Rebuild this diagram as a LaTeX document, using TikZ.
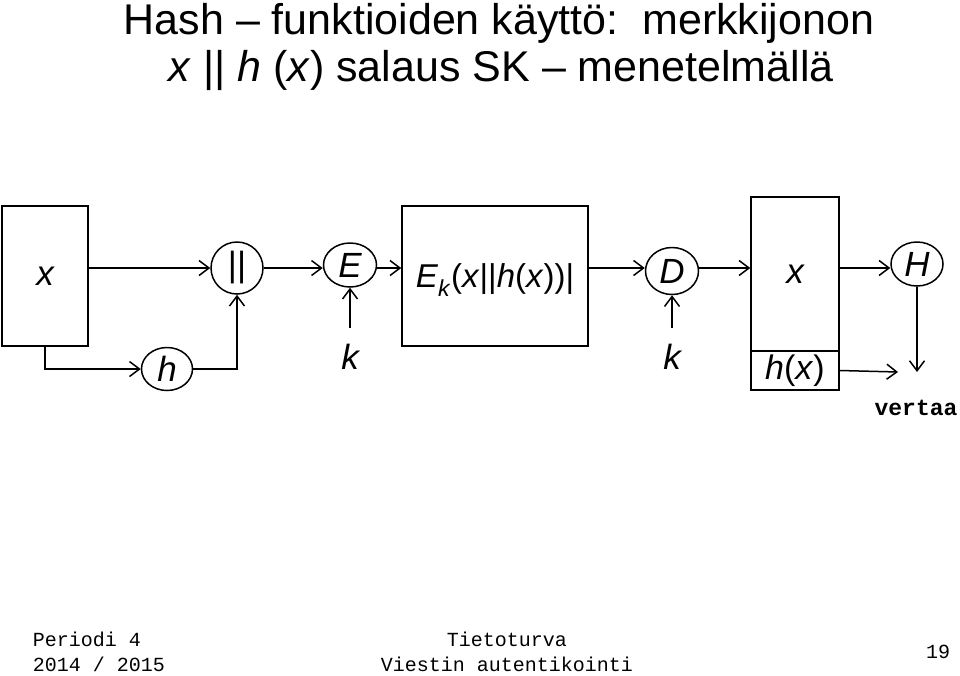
\documentclass[tikz,border=0pt]{standalone}
\usepackage{fontspec}
\setmainfont{Liberation Sans}
\newfontfamily\monofont{Liberation Mono}
\usetikzlibrary{shapes.geometric,arrows.meta}

\tikzset{
	>={Straight Barb[length=10pt,width=15pt]},
	lbl/.style={inner sep=2pt, font=\fontsize{35}{38}\selectfont\itshape},
	op/.style={draw, ellipse, inner sep=0pt, minimum width=53pt, minimum height=44pt, font=\fontsize{35}{38}\selectfont\itshape},
	blk/.style={draw, inner sep=0pt, font=\fontsize{35}{38}\selectfont\itshape},
	foot/.style={inner sep=0pt, font=\monofont\fontsize{20}{24}\selectfont},
	ttl/.style={inner sep=0pt, anchor=base, font=\fontsize{43}{46}\selectfont}
}

\begin{document}
\begin{tikzpicture}[x=1pt, y=-1pt, line width=1.5pt]
		\useasboundingbox (0, 0) rectangle (960, 675);

		% otsikko
		\node[ttl] (title1) at (499, 34) {Hash -- funktioiden käyttö:\ \ merkkijonon};
		\node[ttl] (title2) at (501, 81) {\textit{x} || \textit{h} (\textit{x}) salaus SK -- menetelmällä};

		% lähettäjä
		\node[blk, minimum width=86pt, minimum height=140pt] (xbox) at (45, 276) {x};
		\node[op, minimum width=52pt, minimum height=52pt, font=\fontsize{35}{38}\selectfont] (cat) at (237, 268) {||};
		\node[op, minimum width=51pt, minimum height=43pt] (hfun) at (167, 369) {h};
		\node[op] (enc) at (350, 265) {E};
		\node[lbl] (k1) at (350, 357) {k};

		\node[blk, minimum width=186pt, minimum height=140pt, text depth=0pt, font=\fontsize{33}{38}\selectfont] (msg) at (495, 276)
			{\textit{E}\textsubscript{\textit{k}}(\textit{x}||\textit{h}(\textit{x}))|};

		% vastaanottaja
		\node[op, minimum height=47pt] (dec) at (672, 271) {D};
		\node[lbl] (k2) at (672, 357) {k};
		\node[blk, minimum width=88pt, minimum height=154pt] (rx) at (795, 274) {x};
		\node[blk, minimum width=88pt, minimum height=39pt, font=\fontsize{34}{38}\selectfont] (rh) at (795, 370.5)
			{\textit{h}(\textit{x})};
		\node[op, minimum width=52pt] (hh) at (917, 264) {H};
		\coordinate (cmp) at (917, 372);
		\node[inner sep=0pt, anchor=base, font=\monofont\bfseries\fontsize{23}{26}\selectfont] (vertaa) at (916, 415) {vertaa};

		\draw[->] (xbox.east |- cat) -- (cat);
		\draw[->] (xbox.south) |- (hfun.west);
		\draw[->] (hfun.east) -| (cat.south);
		\draw[->] (cat.east) -- (enc.west |- cat.east);
		\draw[->, shorten <=14pt] (k1.north) -- (enc.south);
		\draw[->] (enc.east |- cat.east) -- (msg.west |- cat.east);
		\draw[->] (msg.east |- cat.east) -- (dec.west |- cat.east);
		\draw[->, shorten <=14pt] (k2.north) -- (dec.south);
		\draw[->] (dec.east |- cat.east) -- (rx.west |- cat.east);
		\draw[->] (rx.east |- cat.east) -- (hh.west |- cat.east);
		\draw[->] (hh.south) -- (cmp);
		\draw[->] (rh.east) -- ([xshift=-19pt]cmp);

		% alatunniste
		\node[foot, anchor=base west] (per) at (32, 646) {Periodi 4};
		\node[foot, anchor=base west] (year) at (32, 671) {2014 / 2015};
		\node[foot, anchor=base] (course) at (507, 646) {Tietoturva};
		\node[foot, anchor=base] (topic) at (507, 671) {Viestin autentikointi};
		\node[foot, anchor=base] (page) at (938, 658) {19};
	\end{tikzpicture}
\end{document}
